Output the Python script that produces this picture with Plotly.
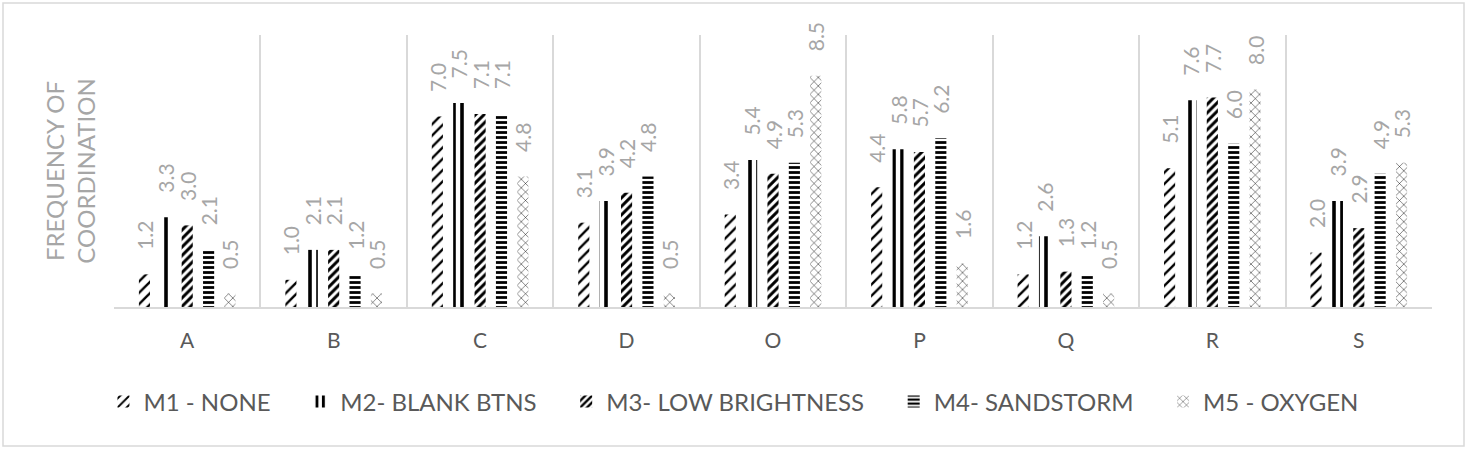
import plotly.graph_objects as go

categories = ["A", "B", "C", "D", "O", "P", "Q", "R", "S"]
series_names = ["M1 - NONE", "M2- BLANK BTNS", "M3- LOW BRIGHTNESS", "M4- SANDSTORM", "M5 - OXYGEN"]

m1_none = [1.2, 1.0, 7.0, 3.1, 3.4, 4.4, 1.2, 5.1, 2.0]
m2_blank_btns = [3.3, 2.1, 7.5, 3.9, 5.4, 5.8, 2.6, 7.6, 3.9]
m3_low_brightness = [3.0, 2.1, 7.1, 4.2, 4.9, 5.7, 1.3, 7.7, 2.9]
m4_sandstorm = [2.1, 1.2, 7.1, 4.8, 5.3, 6.2, 1.2, 6.0, 4.9]
m5_oxygen = [0.5, 0.5, 4.8, 0.5, 8.5, 1.6, 0.5, 8.0, 5.3]

all_values = [m1_none, m2_blank_btns, m3_low_brightness, m4_sandstorm, m5_oxygen]

# pattern per series (shape, size, solidity)
patterns = [
    dict(shape="/", size=8, solidity=0.3),
    dict(shape="|", size=8, solidity=0.45),
    dict(shape="/", size=6, solidity=0.5),
    dict(shape="-", size=5, solidity=0.55),
    dict(shape="x", size=6, solidity=0.15),
]

W, H = 1467, 449
L, R, T, B = 114, 35, 35, 142
pw, ph = W - L - R, H - T - B

# non-breaking spaces keep the excel-like gaps (label above bar, between legend items)
pad = "\u00a0" * 4
legend_pad = "\u00a0" * 4

fig = go.Figure()
for i, (name, vals, pat) in enumerate(zip(series_names, all_values, patterns)):
    shown = name + (legend_pad if i < len(series_names) - 1 else "")
    fig.add_trace(go.Bar(
        x=categories, y=vals, name=shown,
        marker=dict(
            color="white",
            line=dict(width=0),
            pattern=dict(fgcolor="black", bgcolor="white", fillmode="replace", **pat),
        ),
        text=vals, texttemplate=pad + "%{y:.1f}", textposition="outside",
        textangle=-90, cliponaxis=False, constraintext="none",
        textfont=dict(color="#a6a6a6", size=21, family="Lato"),
    ))

fig.update_layout(
    width=W, height=H,
    margin=dict(l=L, r=R, t=T, b=B),
    barmode="group", bargap=0.27, bargroupgap=0.48,
    plot_bgcolor="white", paper_bgcolor="white",
    font=dict(family="Lato", color="#595959"),
    xaxis=dict(
        type="category", tickson="boundaries", showgrid=True, gridcolor="#d9d9d9",
        gridwidth=2, showline=True, linecolor="#d9d9d9", linewidth=2,
        ticks="", tickfont=dict(size=21, color="#595959"), ticklabelstandoff=14,
    ),
    yaxis=dict(
        range=[0, 10], showgrid=False, showticklabels=False, zeroline=False,
        title=dict(text="FREQUENCY OF<br>COORDINATION", font=dict(size=24, color="#a6a6a6"), standoff=10),
    ),
    legend=dict(
        orientation="h", x=0.470, xanchor="center", y=(T + ph - 402) / ph, yanchor="middle",
        font=dict(size=24, color="#595959"), itemwidth=30, traceorder="normal",
    ),
    shapes=[dict(
        type="rect", xref="paper", yref="paper",
        x0=(3 - L) / pw, x1=(W - 3 - L) / pw,
        y0=(T + ph - (H - 3)) / ph, y1=(T + ph - 3) / ph,
        line=dict(color="#d9d9d9", width=1.5), layer="below",
    )],
)

fig.write_html("out.html", config={"displayModeBar": False},
               post_script="document.body.style.margin='0';")
